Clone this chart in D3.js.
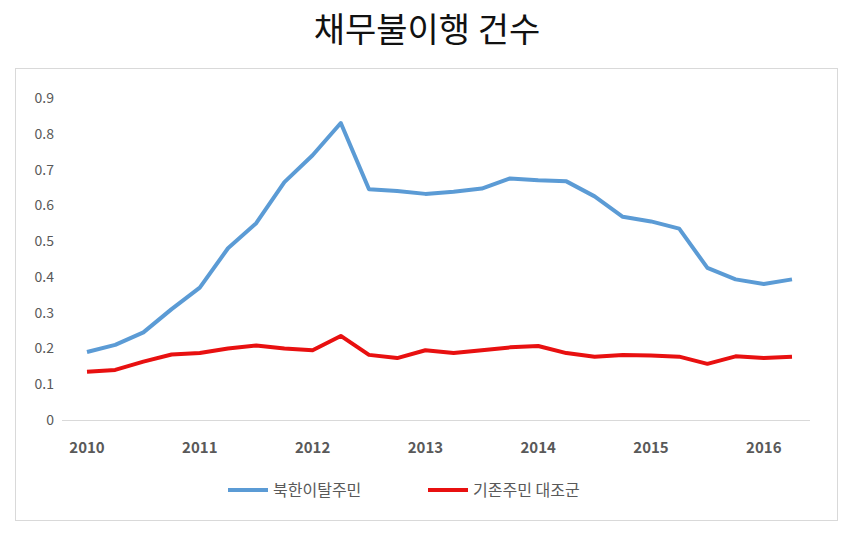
<!DOCTYPE html>
<html><head><meta charset="utf-8">
<script src="https://cdn.jsdelivr.net/npm/d3@7"></script>
<style>body{margin:0;background:#fff;font-family:"Noto Sans CJK KR","Noto Sans",sans-serif}</style>
</head><body>
<svg id="chart" width="858" height="547"></svg>
<script>
// quarterly observations 2010 Q1 .. 2016 Q2
var quarters = d3.range(26).map(function(i){ return 2010 + i/4; });
var defectors = [0.19,0.21,0.245,0.31,0.37,0.48,0.55,0.665,0.74,0.83,0.645,0.64,0.632,0.638,0.647,0.675,0.67,0.667,0.625,0.568,0.555,0.535,0.425,0.393,0.38,0.393];
var controls = [0.135,0.14,0.163,0.183,0.187,0.2,0.208,0.2,0.195,0.235,0.182,0.173,0.195,0.187,0.195,0.203,0.207,0.187,0.177,0.182,0.18,0.177,0.157,0.178,0.173,0.177];
var yearTicks = [2010,2011,2012,2013,2014,2015,2016];
var yTicks = [0,0.1,0.2,0.3,0.4,0.5,0.6,0.7,0.8,0.9];

var svg = d3.select("#chart");
svg.append("text").attr("x",427).attr("y",42).attr("text-anchor","middle")
	.attr("font-size",34).attr("fill","#111").text("채무불이행  건수");
svg.append("rect").attr("x",15.5).attr("y",68.5).attr("width",822).attr("height",452)
	.attr("fill","none").attr("stroke","#d9d9d9");

var x = d3.scaleLinear().domain([2010,2016.25]).range([87,792]);
var y = d3.scaleLinear().domain([0,0.9]).range([420,98]);

svg.append("line").attr("x1",62).attr("x2",810).attr("y1",420.5).attr("y2",420.5).attr("stroke","#d9d9d9");

svg.selectAll(".yt").data(yTicks).enter().append("text")
	.attr("x",54).attr("y",function(d){ return y(d)+5; }).attr("text-anchor","end")
	.attr("font-size",14).attr("fill","#595959")
	.text(function(d){ return d===0?"0":d3.format(".1f")(d); });
svg.selectAll(".xt").data(yearTicks).enter().append("text")
	.attr("x",function(d){ return x(d); }).attr("y",453).attr("text-anchor","middle")
	.attr("font-size",15).attr("font-weight","bold").attr("fill","#595959").text(function(d){ return d; });

var line = d3.line().x(function(d,i){ return x(quarters[i]); }).y(function(d){ return y(d); });
svg.append("path").attr("d",line(defectors)).attr("fill","none").attr("stroke","#5b9bd5").attr("stroke-width",4).attr("stroke-linejoin","round");
svg.append("path").attr("d",line(controls)).attr("fill","none").attr("stroke","#e81010").attr("stroke-width",4).attr("stroke-linejoin","round");

var legend = [["북한이탈주민","#5b9bd5",228],["기존주민 대조군","#e81010",428]];
legend.forEach(function(l){
	svg.append("line").attr("x1",l[2]).attr("x2",l[2]+40).attr("y1",490).attr("y2",490).attr("stroke",l[1]).attr("stroke-width",4);
	svg.append("text").attr("x",l[2]+45).attr("y",496).attr("font-size",16).attr("fill","#595959").text(l[0]);
});
</script>
</body></html>
